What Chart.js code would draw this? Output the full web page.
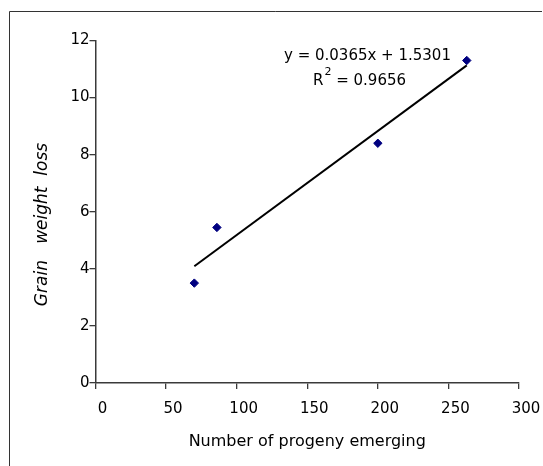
<!DOCTYPE html>
<html>
<head>
<meta charset="utf-8">
<script src="https://cdn.jsdelivr.net/npm/chart.js@4"></script>
<style>
  html, body { margin: 0; padding: 0; background: #fff; }
  #wrap { width: 543px; height: 466px; }
</style>
</head>
<body>
<div id="wrap"><canvas id="grafica" width="543" height="466"></canvas></div>
<script>
const progeny = [70, 86, 200, 263];
const grainLoss = [3.5, 5.45, 8.4, 11.3];
const trendX = [70, 263];
const trendY = [4.09, 11.13];
const xTicks = [0, 50, 100, 150, 200, 250, 300];
const yTicks = [0, 2, 4, 6, 8, 10, 12];
const equationText = "y = 0.0365x + 1.5301";
const r2Value = "0.9656";

const FONT = "'DejaVu Sans', sans-serif";
const AXIS = "#3a3a3a";

const extras = {
    id: "extras",
    afterDraw(chart) {
        const ctx = chart.ctx;
        ctx.save();
        // marco
        ctx.strokeStyle = "#333";
        ctx.lineWidth = 1;
        ctx.beginPath();
        ctx.moveTo(9.5, 480);
        ctx.lineTo(9.5, 11.5);
        ctx.lineTo(542, 11.5);
        ctx.stroke();

        // ecuacion de la tendencia
        ctx.fillStyle = "#000";
        ctx.textBaseline = "alphabetic";
        ctx.font = "15px " + FONT;
        ctx.fillText(equationText, 284, 59.5);
        ctx.fillText("R", 313, 85);
        const rw = ctx.measureText("R").width;
        ctx.font = "11px " + FONT;
        ctx.fillText("2", 313 + rw + 1, 75);
        const sw = ctx.measureText("2").width;
        ctx.font = "15px " + FONT;
        ctx.fillText(" = " + r2Value, 313 + rw + sw + 1, 85);

        // titulo eje y
        ctx.translate(43, 224.5);
        ctx.rotate(-Math.PI / 2);
        ctx.font = "italic 17px " + FONT;
        ctx.textAlign = "center";
        ctx.textBaseline = "middle";
        ctx.fillText("Grain   weight  loss", 0, 0);
        ctx.restore();
    },
};

new Chart(document.getElementById("grafica"), {
    type: "scatter",
    data: {
        datasets: [
            {
                label: "Grain weight loss",
                data: progeny.map((x, i) => ({ x, y: grainLoss[i] })),
                backgroundColor: "#000080",
                borderColor: "#000080",
                pointStyle: "rectRot",
                pointRadius: 4.2,
                pointHoverRadius: 4.2,
                order: 1,
            },
            {
                label: "Linear",
                type: "line",
                data: trendX.map((x, i) => ({ x, y: trendY[i] })),
                borderColor: "#000",
                borderWidth: 2,
                pointRadius: 0,
                fill: false,
                order: 2,
            },
        ],
    },
    options: {
        responsive: false,
        animation: false,
        events: [],
        layout: { padding: { left: 0, right: 24, top: 40.5, bottom: 0 } },
        plugins: { legend: { display: false }, tooltip: { enabled: false } },
        scales: {
            x: {
                type: "linear",
                min: 0,
                max: 300,
                afterBuildTicks: (s) => { s.ticks = xTicks.map((v) => ({ value: v })); },
                afterFit: (s) => { s.height = 83; s.paddingLeft = 0; s.paddingRight = 0; },
                ticks: {
                    color: "#000",
                    font: { family: FONT, size: 15 },
                    padding: 11,
                    labelOffset: 7,
                    maxRotation: 0,
                    autoSkip: false,
                },
                grid: { drawOnChartArea: false, drawTicks: true, tickLength: 6, color: AXIS, lineWidth: 1.3 },
                border: { display: true, color: AXIS, width: 1.5 },
                title: {
                    display: true,
                    text: "Number of progeny emerging",
                    color: "#000",
                    font: { family: FONT, size: 16 },
                    padding: { top: 0, bottom: 15 },
                },
            },
            y: {
                min: 0,
                max: 12,
                afterBuildTicks: (s) => { s.ticks = yTicks.map((v) => ({ value: v })); },
                afterFit: (s) => { s.width = 95.5; s.paddingTop = 0; s.paddingBottom = 0; },
                ticks: {
                    color: "#000",
                    font: { family: FONT, size: 15 },
                    padding: 0,
                    autoSkip: false,
                },
                grid: { drawOnChartArea: false, drawTicks: true, tickLength: 6, color: AXIS, lineWidth: 1.3 },
                border: { display: true, color: AXIS, width: 1.5 },
            },
        },
    },
    plugins: [extras],
});
</script>
</body>
</html>
